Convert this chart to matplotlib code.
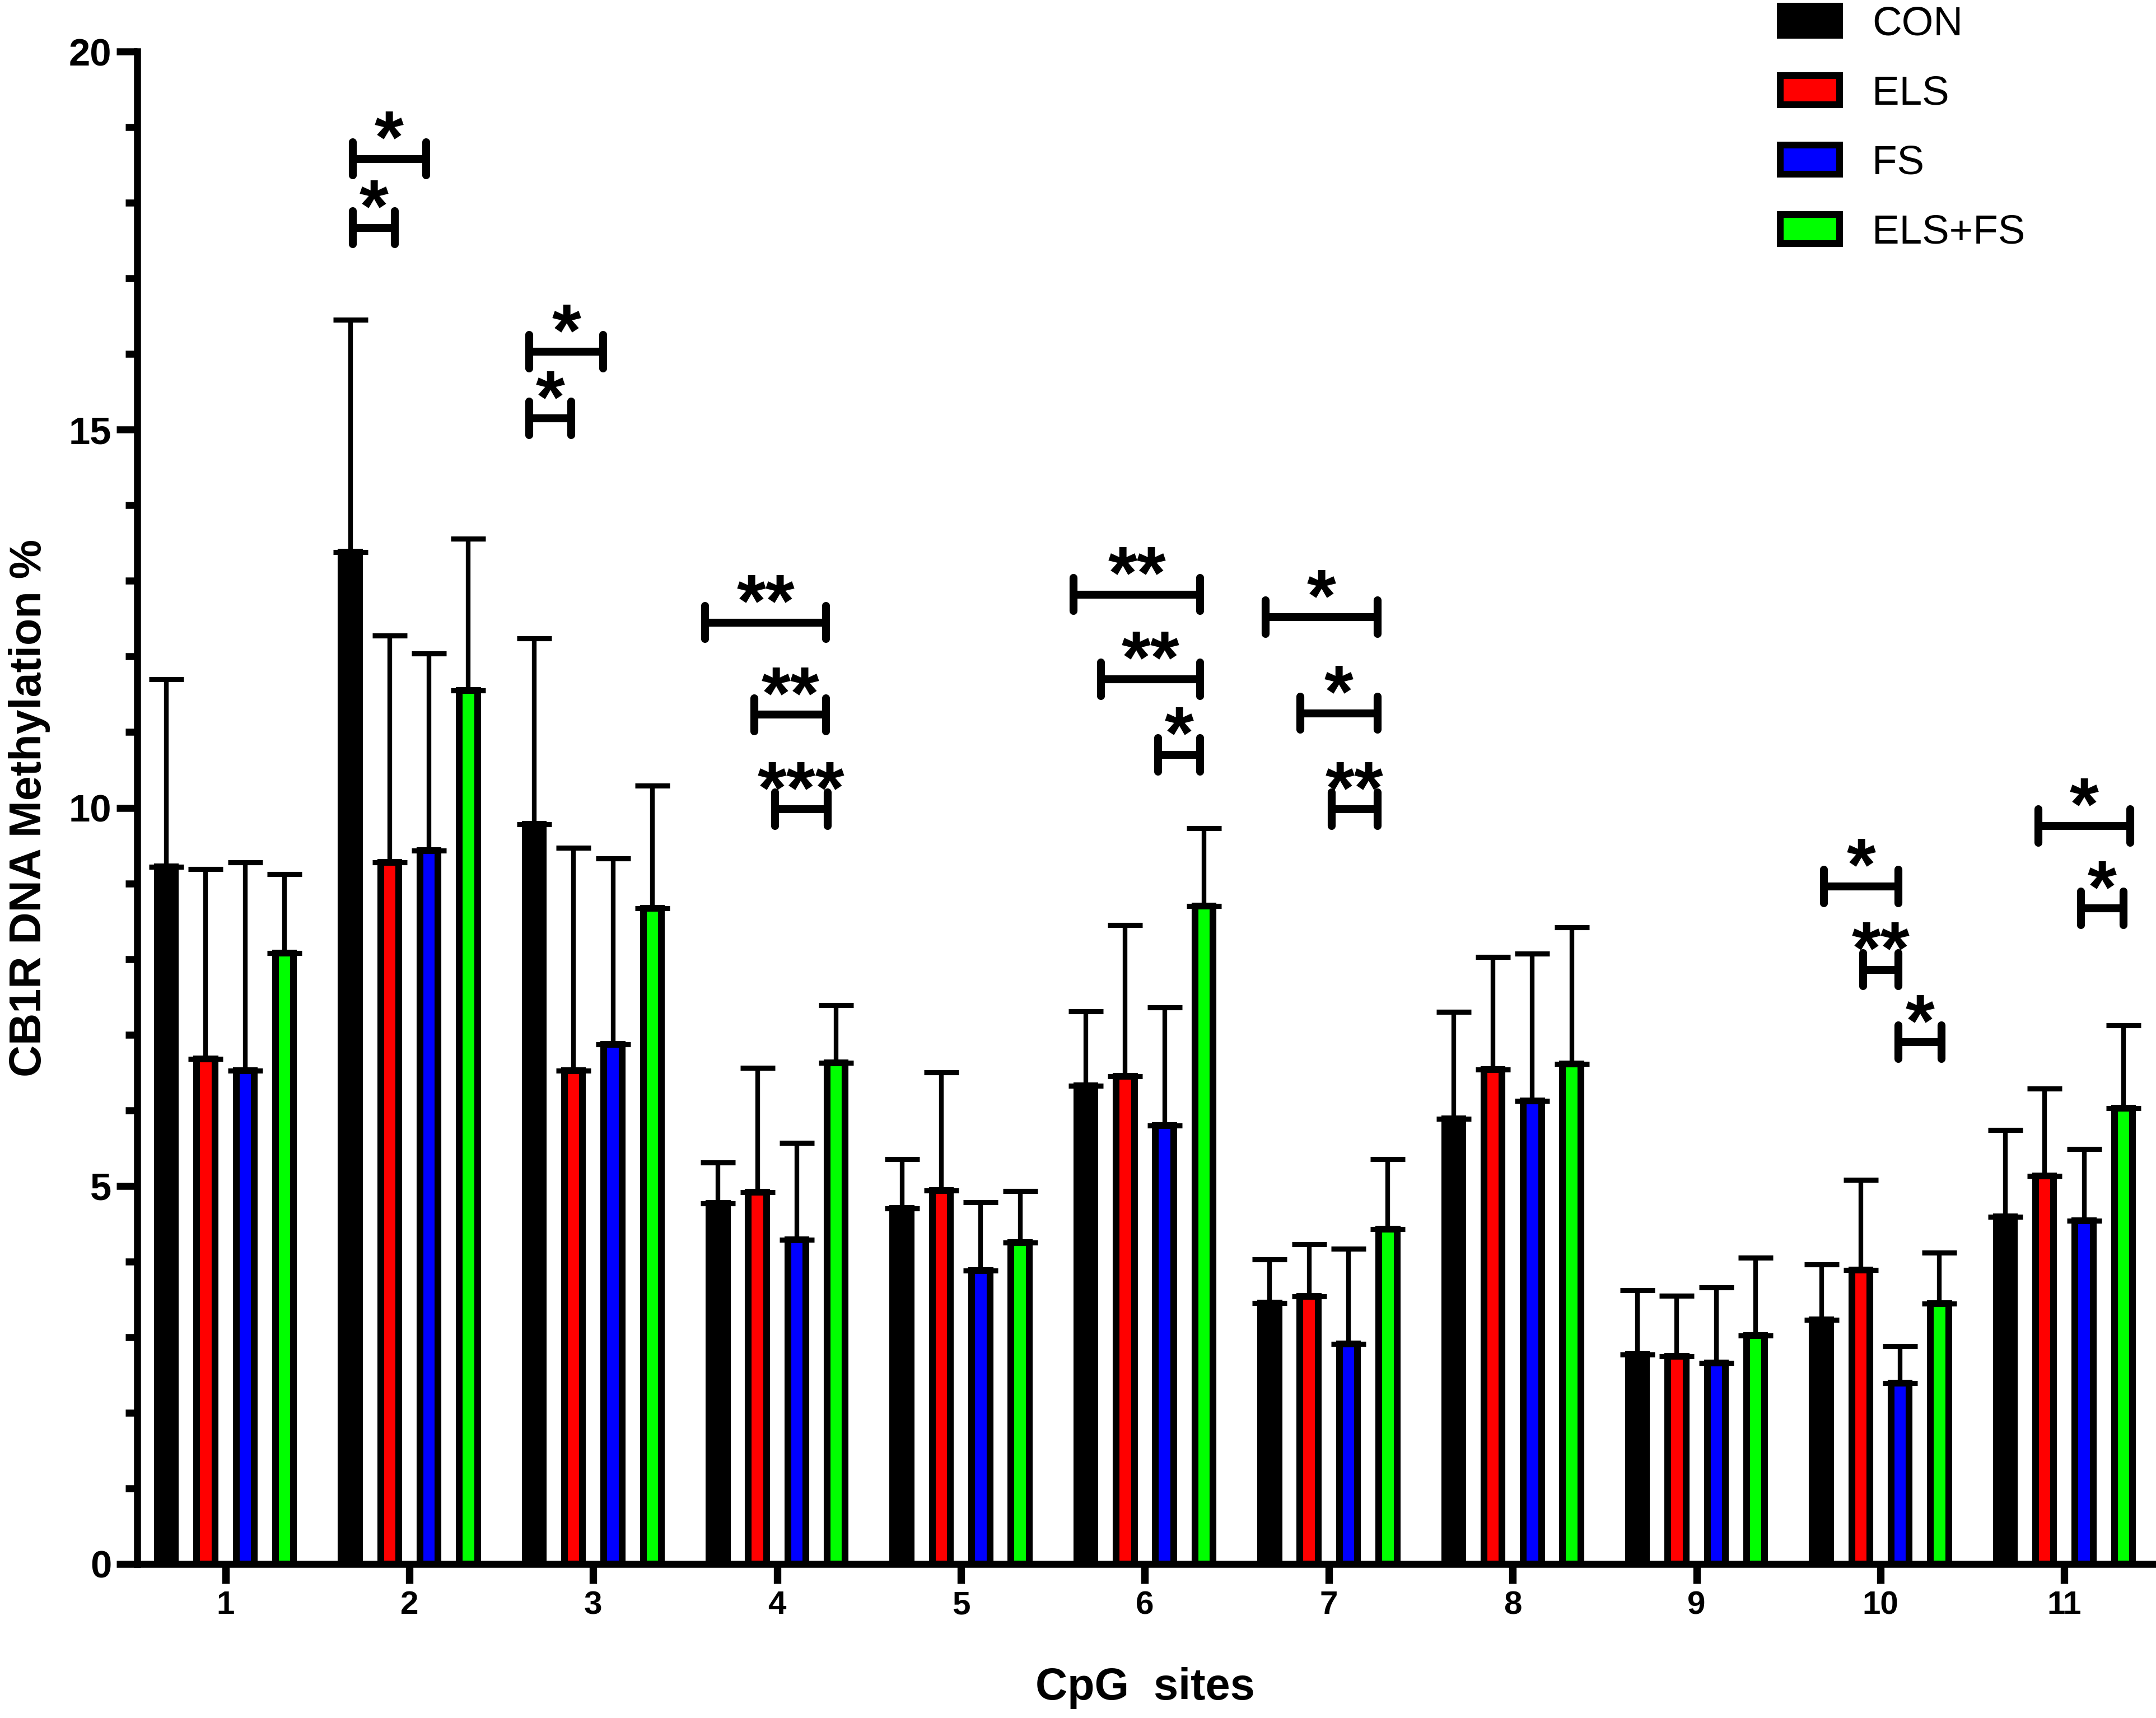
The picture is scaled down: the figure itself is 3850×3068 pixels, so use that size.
import matplotlib
matplotlib.use("Agg")
import matplotlib.pyplot as plt
from matplotlib.ticker import MultipleLocator
import numpy as np

# ---------------- data ----------------
sites = ["1", "2", "3", "4", "5", "6", "7", "8", "9", "10", "11"]
groups = ["CON", "ELS", "FS", "ELS+FS"]

con_mean = [9.22, 13.38, 9.78, 4.77, 4.70, 6.32, 3.45, 5.89, 2.77, 3.23, 4.59]
els_mean = [6.68, 9.28, 6.52, 4.92, 4.94, 6.45, 3.54, 6.54, 2.75, 3.89, 5.13]
fs_mean = [6.52, 9.43, 6.87, 4.29, 3.88, 5.80, 2.91, 6.12, 2.66, 2.39, 4.54]
elsfs_mean = [8.08, 11.55, 8.67, 6.63, 4.25, 8.70, 4.43, 6.61, 3.02, 3.44, 6.03]

con_err = [2.48, 3.07, 2.46, 0.54, 0.65, 0.99, 0.58, 1.41, 0.85, 0.73, 1.15]
els_err = [2.51, 3.00, 2.95, 1.64, 1.56, 2.00, 0.69, 1.49, 0.80, 1.19, 1.16]
fs_err = [2.76, 2.61, 2.46, 1.28, 0.90, 1.56, 1.26, 1.95, 1.00, 0.49, 0.95]
elsfs_err = [1.04, 2.01, 1.62, 0.76, 0.68, 1.03, 0.92, 1.81, 1.03, 0.68, 1.09]

# significance brackets: (site index, left offset, right offset, height, label)
sig_site = [2, 2, 3, 3, 4, 4, 4, 6, 6, 6, 7, 7, 7, 10, 10, 10, 11, 11]
sig_left = [-0.309, -0.309, -0.349, -0.349, -0.392, -0.123, -0.011,
            -0.387, -0.238, 0.073, -0.343, -0.155, 0.016,
            -0.307, -0.094, 0.097, -0.142, 0.089]
sig_right = [0.090, -0.079, 0.055, -0.120, 0.266, 0.266, 0.274,
             0.301, 0.301, 0.301, 0.265, 0.265, 0.265,
             0.097, 0.097, 0.332, 0.358, 0.323]
sig_height = [18.58, 17.67, 16.03, 15.15, 12.45, 11.23, 9.98,
              12.82, 11.70, 10.70, 12.52, 11.25, 9.98,
              8.96, 7.86, 6.90, 9.76, 8.67]
sig_label = ["*", "*", "*", "*", "**", "**", "***",
             "**", "**", "*", "*", "*", "**",
             "*", "**", "*", "*", "*"]

# ---------------- style ----------------
plt.rcParams["font.family"] = ["Liberation Sans", "DejaVu Sans"]
colors = ["#000000", "#FF0000", "#0000FF", "#00FF00"]
means = [con_mean, els_mean, fs_mean, elsfs_mean]
errs = [con_err, els_err, fs_err, elsfs_err]
offsets = [-0.321, -0.107, 0.107, 0.321]
bar_w = 0.099

W, H = 3850, 3068
fig = plt.figure(figsize=(W / 300, H / 300), dpi=300)
ax = fig.add_axes([245 / W, (H - 2793) / H, (3844 - 245) / W, (2793 - 92) / H])

x = np.arange(1, len(sites) + 1)
handles = []
for g, (m, e, c, off) in enumerate(zip(means, errs, colors, offsets)):
    b = ax.bar(x + off, m, width=bar_w, color=c, edgecolor="black",
               linewidth=2.9, zorder=3, label=groups[g])
    handles.append(b)
    ax.errorbar(x + off, m, yerr=[np.zeros(len(m)), e], fmt="none",
                ecolor="black", elinewidth=2.0, capsize=7.5, capthick=2.2,
                zorder=2)

# significance brackets
for s, lo, hi, y, lab in zip(sig_site, sig_left, sig_right, sig_height, sig_label):
    x0, x1 = s + lo, s + hi
    ax.plot([x0, x1], [y, y], color="black", lw=3.4, solid_capstyle="butt", zorder=4)
    for xe in (x0, x1):
        ax.plot([xe, xe], [y - 0.22, y + 0.22], color="black", lw=3.4,
                solid_capstyle="round", zorder=4)
    ax.text((x0 + x1) / 2, y - 0.05, lab, ha="center", va="baseline",
            fontsize=32, fontweight="bold", zorder=5)

# axes
ax.set_xlim(0.52, 11.48)
ax.set_ylim(0, 20)
ax.set_xticks(x)
ax.set_xticklabels(sites, fontsize=14, fontweight="bold")
ax.set_yticks([0, 5, 10, 15, 20])
ax.set_yticklabels(["0", "5", "10", "15", "20"], fontsize=16.5, fontweight="bold")
ax.yaxis.set_minor_locator(MultipleLocator(1))
ax.tick_params(axis="y", which="major", length=9, width=3, pad=2)
ax.tick_params(axis="y", which="minor", length=5, width=3)
ax.tick_params(axis="x", which="major", length=8.4, width=3.2, pad=3)
for sp in ["top", "right"]:
    ax.spines[sp].set_visible(False)
for sp in ["left", "bottom"]:
    ax.spines[sp].set_linewidth(3)

ax.set_ylabel("CB1R DNA Methylation %", fontsize=19, fontweight="bold")
ax.yaxis.set_label_coords(-0.043, 0.5)
ax.set_xlabel("CpG  sites", fontsize=19, fontweight="bold")
ax.xaxis.set_label_coords(0.5, -0.068)

leg = ax.legend(handles=handles, labels=groups, loc="upper left",
                bbox_to_anchor=(3179 / W, 0.9965), bbox_transform=fig.transFigure,
                frameon=False, fontsize=17.5, borderpad=0, borderaxespad=0,
                handlelength=1.45, handleheight=0.72, handletextpad=0.8,
                labelspacing=0.78)

fig.savefig("out.png", dpi=300)
